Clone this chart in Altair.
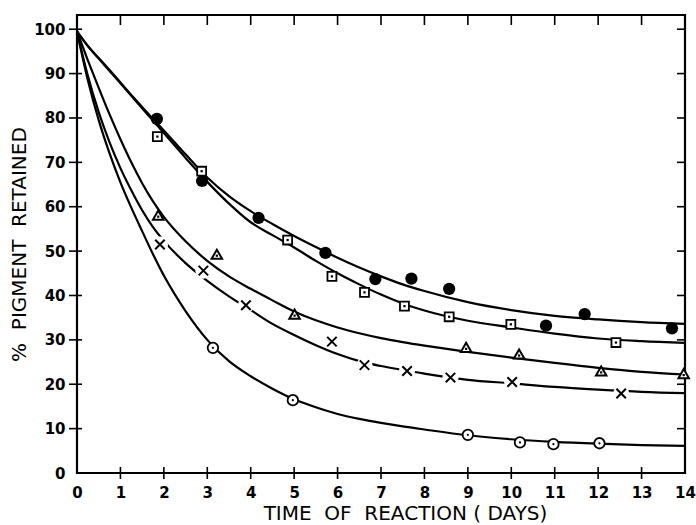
import altair as alt
import pandas as pd

# ---- curve readings (days vs % retained) ----
grid = [0, 0.25, 0.5, 0.75, 1, 1.25, 1.5, 1.75, 2, 2.5, 3, 3.5, 4, 4.5, 5, 5.5,
        6, 6.5, 7, 7.5, 8, 9, 10, 11, 12, 13, 14]
curve_a = [99.5, 96.2, 93.5, 90.8, 88, 85.2, 82.5, 79.8, 77.2, 71.8, 66.6, 62.4, 59, 56.1,
           53.4, 50.9, 48.5, 46.3, 44.3, 42.5, 41, 38.5, 36.7, 35.4, 34.6, 34, 33.6]
curve_b = [99.5, 96.2, 93.4, 90.6, 87.8, 85, 82.2, 79.4, 76.6, 71, 65.6, 60.7, 56.5, 53.6,
           50.8, 47.8, 45, 42.5, 40.2, 38.2, 36.6, 34.3, 32.8, 31.4, 30.3, 29.7, 29.3]
curve_c = [99.5, 93, 86.8, 80.8, 75.2, 70, 65.3, 61.2, 57.7, 52.2, 47.8, 44.3, 41.5, 38.9,
           36.4, 34.4, 32.8, 31.5, 30.4, 29.5, 28.7, 27.3, 26, 24.8, 23.7, 22.8, 22.2]
curve_d = [99.5, 89.5, 81.3, 74.5, 68.7, 63.7, 59.2, 55.4, 52.3, 47.3, 43.3, 39.8, 36.7, 33.6,
           31.1, 28.8, 26.8, 25.2, 24.1, 23.2, 22.4, 21, 20.2, 19.4, 18.8, 18.3, 18]
curve_e = [99.5, 88.5, 79.5, 72, 65.5, 59.8, 54.5, 49.3, 44.5, 36.5, 30, 25.2, 21.8, 19,
           16.6, 14.8, 13.3, 12.2, 11.3, 10.5, 9.8, 8.5, 7.6, 7, 6.6, 6.3, 6.1]

# ---- plotted points ----
pts_a_x = [1.84, 2.88, 4.18, 5.72, 6.87, 7.7, 8.57, 10.8, 11.69, 13.7]
pts_a_y = [79.8, 65.8, 57.5, 49.6, 43.7, 43.8, 41.5, 33.2, 35.8, 32.6]
pts_b_x = [1.85, 2.87, 4.85, 5.87, 6.62, 7.54, 8.57, 9.99, 12.41]
pts_b_y = [75.8, 68.0, 52.5, 44.3, 40.7, 37.6, 35.2, 33.5, 29.4]
pts_c_x = [1.87, 3.22, 5.01, 8.96, 10.18, 12.07, 13.97]
pts_c_y = [58.1, 49.3, 35.8, 28.3, 26.8, 23.0, 22.4]
pts_d_x = [1.91, 2.91, 3.89, 5.87, 6.62, 7.6, 8.6, 10.02, 12.53]
pts_d_y = [51.5, 45.6, 37.8, 29.6, 24.3, 23.0, 21.5, 20.5, 17.9]
pts_e_x = [3.13, 4.97, 9.0, 10.2, 10.97, 12.03]
pts_e_y = [28.2, 16.4, 8.6, 6.9, 6.5, 6.7]

x_ticks = list(range(0, 15))
y_ticks = list(range(0, 101, 10))
y_top = 103.2
x_title = "TIME\u00a0\u00a0OF\u00a0\u00a0REACTION\u00a0(\u00a0DAYS)"
y_title = "%\u00a0\u00a0PIGMENT\u00a0\u00a0RETAINED"

curves = pd.concat([
    pd.DataFrame({"x": grid, "y": c, "series": s})
    for s, c in zip("ABCDE", [curve_a, curve_b, curve_c, curve_d, curve_e])
])

def pts(xs_, ys_):
    return pd.DataFrame({"x": xs_, "y": ys_})

xs = alt.Scale(domain=[0, 14], nice=False, zero=False)
ys = alt.Scale(domain=[0, y_top], nice=False, zero=False)
xaxis = alt.Axis(values=x_ticks, ticks=False, domain=False, grid=False, labelPadding=12,
                 title=x_title, titlePadding=3, titleX=328, format="d", labelFlush=False)
yaxis = alt.Axis(values=y_ticks, ticks=False, domain=False, grid=False, labelPadding=12,
                 title=y_title, titlePadding=4, format="d")

X = alt.X("x:Q", scale=xs, axis=xaxis)
Y = alt.Y("y:Q", scale=ys, axis=yaxis)

lines = alt.Chart(curves).mark_line(interpolate="monotone", color="black", strokeWidth=2.2).encode(
    x=X, y=Y, detail="series:N")

# axis tick marks drawn from tick value lists
bottom_t = alt.Chart(pd.DataFrame({"x": x_ticks[1:-1], "y": [0] * 13})).mark_tick(
    orient="vertical", size=12, thickness=1.6, color="black", opacity=1).encode(x=X, y=Y)
top_t = alt.Chart(pd.DataFrame({"x": x_ticks[1:-1], "y": [y_top] * 13})).mark_tick(
    orient="vertical", size=10, thickness=1.6, color="black", opacity=1, yOffset=5).encode(x=X, y=Y)
left_t = alt.Chart(pd.DataFrame({"x": [0] * 10, "y": y_ticks[1:]})).mark_tick(
    orient="horizontal", size=13, thickness=1.6, color="black", opacity=1, xOffset=-1.5).encode(x=X, y=Y)
right_t = alt.Chart(pd.DataFrame({"x": [14] * 10, "y": y_ticks[1:]})).mark_tick(
    orient="horizontal", size=8, thickness=1.6, color="black", opacity=1, xOffset=-4).encode(x=X, y=Y)

knock = alt.Chart(pts(pts_d_x, pts_d_y)).mark_point(
    shape="circle", filled=True, color="white", size=260, opacity=1).encode(x=X, y=Y)

m_a = alt.Chart(pts(pts_a_x, pts_a_y)).mark_point(
    shape="circle", filled=True, color="black", size=150, opacity=1).encode(x=X, y=Y)
m_b = alt.Chart(pts(pts_b_x, pts_b_y)).mark_point(
    shape="square", filled=True, fill="white", stroke="black", strokeWidth=1.8, size=80,
    opacity=1).encode(x=X, y=Y)
m_b2 = alt.Chart(pts(pts_b_x, pts_b_y)).mark_point(
    shape="square", filled=True, color="black", size=5, opacity=1).encode(x=X, y=Y)
m_c = alt.Chart(pts(pts_c_x, pts_c_y)).mark_point(
    shape="triangle-up", filled=True, fill="white", stroke="black", strokeWidth=2, size=110,
    opacity=1).encode(x=X, y=Y)
m_c2 = alt.Chart(pts(pts_c_x, pts_c_y)).mark_point(
    shape="square", filled=True, color="black", size=5, opacity=1, yOffset=1.5).encode(x=X, y=Y)
m_d = alt.Chart(pts(pts_d_x, pts_d_y)).mark_point(
    shape="M-1,-1L1,1M-1,1L1,-1", filled=False, color="black", strokeWidth=2, size=90,
    opacity=1).encode(x=X, y=Y)
m_e = alt.Chart(pts(pts_e_x, pts_e_y)).mark_point(
    shape="circle", filled=True, fill="white", stroke="black", strokeWidth=1.8, size=110,
    opacity=1).encode(x=X, y=Y)
m_e2 = alt.Chart(pts(pts_e_x, pts_e_y)).mark_point(
    shape="circle", filled=True, color="black", size=5, opacity=1).encode(x=X, y=Y)

chart = alt.layer(
    lines, bottom_t, top_t, left_t, right_t, knock,
    m_a, m_b, m_b2, m_c, m_c2, m_d, m_e, m_e2
).properties(
    width=608, height=458,
    autosize=alt.AutoSizeParams(type="none"),
    padding={"left": 77, "top": 15, "right": 11, "bottom": 52},
    background="white",
).configure_view(
    stroke="black", strokeWidth=2.2
).configure_axis(
    labelFont="DejaVu Sans", labelFontSize=15, labelFontWeight="bold", labelColor="black",
    titleFont="DejaVu Sans", titleFontSize=20, titleFontWeight="normal", titleColor="black",
)

chart.save("out.html", embed_options={"renderer": "svg", "actions": False})
